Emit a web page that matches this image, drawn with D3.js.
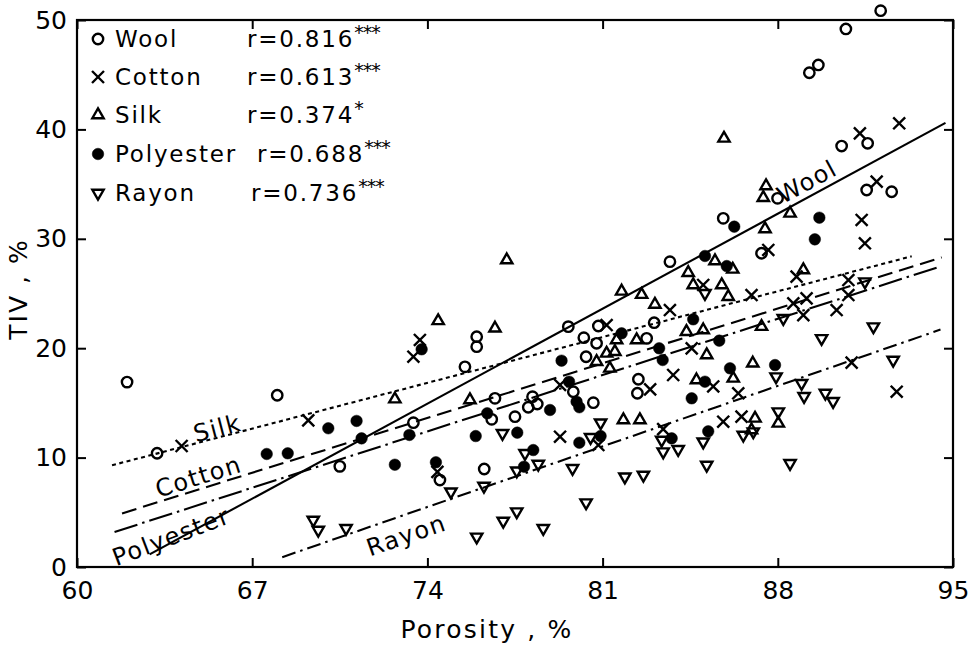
<!DOCTYPE html>
<html>
<head>
<meta charset="utf-8">
<script src="https://cdn.jsdelivr.net/npm/d3@7"></script>
<style>
  html, body { margin: 0; padding: 0; background: #fff; }
  svg { display: block; font-family: "DejaVu Sans", sans-serif; }
</style>
</head>
<body>
<svg id="chart" width="974" height="650"></svg>
<script>
// Porosity (%) vs TIV (%) for five fibre types, with least-squares lines.
const xTicks = [60, 67, 74, 81, 88, 95];
const yTicks = [0, 10, 20, 30, 40, 50];

const seriesNames = ["Wool", "Cotton", "Silk", "Polyester", "Rayon"];
const rValues = ["0.816", "0.613", "0.374", "0.688", "0.736"];
const significance = ["***", "***", "*", "***", "***"];

// [porosity, TIV]
const woolPoints = [
  [62.0, 16.9], [68.0, 15.7], [63.2, 10.4], [70.5, 9.2], [75.97, 21.05], [75.97, 20.14],
  [75.5, 18.3], [79.63, 21.97], [80.25, 20.96], [80.83, 22.03], [80.76, 20.45], [80.34, 19.22],
  [82.76, 20.9], [83.06, 22.33], [79.83, 16.02], [80.63, 15.02], [82.43, 17.16], [82.39, 15.88],
  [78.2, 15.57], [78.03, 14.6], [78.39, 14.9], [76.7, 15.42], [76.57, 13.5], [77.5, 13.74],
  [73.44, 13.19], [74.5, 7.95], [76.27, 8.96], [87.99, 33.7], [85.82, 31.87], [87.35, 28.68],
  [91.55, 34.46], [92.55, 34.3], [83.69, 27.91], [92.11, 50.85], [90.72, 49.18], [89.26, 45.18],
  [89.62, 45.89], [90.55, 38.48], [91.59, 38.73]
];
const cottonPoints = [
  [64.18, 11.06], [69.24, 13.4], [73.7, 20.75], [73.44, 19.22], [81.16, 22.12], [83.69, 23.49],
  [83.82, 17.55], [79.3, 16.64], [82.9, 16.24], [74.4, 8.7], [79.3, 11.91], [80.83, 11.15],
  [83.42, 12.6], [85.42, 16.5], [86.42, 15.88], [92.75, 16.02], [85.82, 13.28], [86.55, 13.74],
  [91.35, 31.72], [91.48, 29.59], [87.62, 28.98], [91.95, 35.22], [85.02, 25.78], [86.95, 24.86],
  [88.75, 26.54], [90.82, 26.23], [90.82, 24.86], [88.62, 24.1], [89.15, 24.56], [89.02, 23.03],
  [90.35, 23.49], [90.95, 18.68], [84.56, 19.99], [91.28, 39.64], [92.85, 40.56]
];
const silkPoints = [
  [72.7, 15.35], [74.43, 22.5], [76.7, 21.82], [75.7, 15.27], [77.17, 28.06], [81.56, 20.75],
  [82.36, 20.75], [83.09, 24.0], [80.76, 18.77], [81.16, 19.53], [81.49, 19.68], [81.29, 18.16],
  [81.83, 13.44], [82.49, 13.44], [85.85, 39.18], [87.53, 34.83], [87.42, 33.76], [88.49, 32.33],
  [87.49, 30.9], [85.49, 27.97], [86.2, 27.21], [84.42, 26.9], [81.76, 25.2], [82.56, 24.9],
  [84.62, 25.78], [85.76, 25.78], [86.02, 24.71], [89.02, 27.15], [87.35, 21.97], [84.35, 21.51],
  [85.02, 21.66], [85.16, 19.38], [84.75, 17.09], [86.22, 17.24], [87.0, 18.62], [87.09, 13.59],
  [86.95, 12.52], [88.02, 13.13]
];
const polyesterPoints = [
  [70.04, 12.68], [71.17, 13.35], [71.37, 11.76], [67.58, 10.33], [68.42, 10.39], [72.7, 9.35],
  [73.77, 19.9], [81.76, 21.36], [83.26, 19.99], [83.4, 18.92], [79.36, 18.86], [79.66, 16.94],
  [79.96, 15.11], [80.07, 14.6], [78.9, 14.35], [76.39, 14.05], [77.59, 12.28], [75.93, 11.97],
  [73.28, 12.07], [74.34, 9.57], [80.07, 11.36], [80.92, 11.97], [78.23, 10.69], [77.86, 9.17],
  [83.76, 11.76], [85.22, 12.4], [86.26, 31.11], [89.66, 31.93], [89.48, 29.95], [85.09, 28.43],
  [85.96, 27.51], [84.62, 22.64], [85.66, 20.69], [85.09, 16.94], [84.56, 15.42], [86.09, 18.16],
  [87.89, 18.46]
];
const rayonPoints = [
  [69.44, 4.3], [69.64, 3.38], [70.75, 3.54], [75.97, 2.75], [77.0, 12.22], [74.94, 6.88],
  [76.26, 7.4], [77.03, 4.2], [77.57, 5.06], [78.63, 3.54], [80.34, 5.88], [79.8, 9.02],
  [80.52, 11.86], [80.92, 13.19], [81.89, 8.25], [82.63, 8.41], [77.9, 10.39], [77.57, 8.8],
  [78.43, 9.41], [83.36, 11.61], [83.42, 10.54], [84.02, 10.76], [85.16, 9.32], [88.49, 9.48],
  [85.02, 11.45], [86.62, 12.07], [87.02, 12.37], [88.95, 16.8], [89.05, 15.6], [89.9, 15.9],
  [90.21, 15.15], [88.02, 14.2], [85.09, 25.02], [91.48, 26.08], [88.22, 22.73], [89.75, 20.9],
  [91.82, 21.97], [92.61, 18.92], [87.93, 17.4]
];

// Regression lines: [[porosity start, TIV], [porosity end, TIV]]
const woolFit = [[62.9, 1.16], [94.7, 40.6]];
const cottonFit = [[61.8, 4.9], [94.55, 28.3]];
const silkFit = [[61.4, 9.3], [93.35, 28.4]];
const polyesterFit = [[61.5, 3.2], [94.4, 27.4]];
const rayonFit = [[68.2, 0.9], [94.5, 21.7]];

const svg = d3.select("#chart");
const x = d3.scaleLinear().domain([60, 95]).range([77, 953]);
const y = d3.scaleLinear().domain([0, 50]).range([567, 20]);

const FONT = "'DejaVu Sans', sans-serif";

// Symbol generators
const sym = {
  Wool: d3.symbol().type(d3.symbolCircle).size(85),
  Cotton: d3.symbol().type(d3.symbolTimes).size(95),
  Silk: d3.symbol().type(d3.symbolTriangle2).size(92),
  Polyester: d3.symbol().type(d3.symbolCircle).size(105),
  Rayon: d3.symbol().type(d3.symbolTriangle2).size(92)
};
function drawMarker(g, name, px, py) {
  const p = g.append("path")
    .attr("d", sym[name]())
    .attr("transform", `translate(${px},${py})` + (name === "Rayon" ? " rotate(180)" : ""))
    .attr("stroke", "#000")
    .attr("stroke-width", 2.4);
  if (name === "Polyester") p.attr("fill", "#000").attr("stroke-width", 0.5);
  else p.attr("fill", "none");
  return p;
}

// Axes (inward ticks)
const gx = svg.append("g").attr("transform", `translate(0,${y(0)})`)
  .call(d3.axisBottom(x).tickValues(xTicks).tickSizeInner(-9).tickSizeOuter(0).tickPadding(14));
const gy = svg.append("g").attr("transform", `translate(${x(60)},0)`)
  .call(d3.axisLeft(y).tickValues(yTicks).tickSizeInner(-9).tickSizeOuter(0).tickPadding(10));
const gt = svg.append("g").attr("transform", `translate(0,${y(50)})`)
  .call(d3.axisTop(x).tickValues(xTicks).tickSizeInner(-9).tickSizeOuter(0).tickFormat(""));
const gr = svg.append("g").attr("transform", `translate(${x(95)},0)`)
  .call(d3.axisRight(y).tickValues(yTicks).tickSizeInner(-9).tickSizeOuter(0).tickFormat(""));
[gx, gy, gt, gr].forEach(g => {
  g.select(".domain").remove();
  g.selectAll(".tick line").attr("stroke", "#000").attr("stroke-width", 2);
  g.selectAll(".tick text").attr("fill", "#000").style("font-family", FONT).style("font-size", "25px");
});

// Frame
svg.append("rect")
  .attr("x", x(60)).attr("y", y(50))
  .attr("width", x(95) - x(60)).attr("height", y(0) - y(50))
  .attr("fill", "none").attr("stroke", "#000").attr("stroke-width", 2.2);

// Axis titles
svg.append("text")
  .attr("x", (x(60) + x(95)) / 2 - 28).attr("y", 638)
  .attr("text-anchor", "middle")
  .style("font-family", FONT).style("font-size", "25px").style("letter-spacing", "2.2px")
  .text("Porosity , %");
svg.append("text")
  .attr("transform", "translate(27,289) rotate(-90)")
  .attr("text-anchor", "middle")
  .style("font-family", FONT).style("font-size", "25px").style("letter-spacing", "2px")
  .text("TIV , %");

// Regression lines
const fits = [
  { name: "Wool", pts: woolFit, dash: null, lx: 89.44, off: 14, extra: 0 },
  { name: "Cotton", pts: cottonFit, dash: "15,7", lx: 65.0, off: 12, extra: 0 },
  { name: "Silk", pts: silkFit, dash: "4,3.5", lx: 65.7, off: 9, extra: 0 },
  { name: "Polyester", pts: polyesterFit, dash: "24,5,2.5,5", lx: 63.5, off: -22, extra: -3 },
  { name: "Rayon", pts: rayonFit, dash: "14,5,2.5,5", lx: 72.9, off: -20, extra: 0 }
];
const line = d3.line().x(d => x(d[0])).y(d => y(d[1]));
fits.forEach(f => {
  svg.append("path")
    .datum(f.pts)
    .attr("d", line)
    .attr("fill", "none")
    .attr("stroke", "#000")
    .attr("stroke-width", 2.1)
    .attr("stroke-dasharray", f.dash);
  const [[x0, y0], [x1, y1]] = f.pts;
  const ty = y0 + (y1 - y0) * (f.lx - x0) / (x1 - x0);
  const px = x(f.lx), py = y(ty);
  const theta = Math.atan2(y(y1) - y(y0), x(x1) - x(x0));
  const cx = px + f.off * Math.sin(theta);
  const cy = py - f.off * Math.cos(theta);
  svg.append("text")
    .attr("transform", `translate(${cx},${cy}) rotate(${theta * 180 / Math.PI + f.extra})`)
    .attr("text-anchor", "middle")
    .attr("dominant-baseline", "central")
    .style("font-family", FONT).style("font-size", "24px").style("letter-spacing", "1.5px")
    .text(f.name);
});

// Data points
const pointSets = { Wool: woolPoints, Cotton: cottonPoints, Silk: silkPoints, Polyester: polyesterPoints, Rayon: rayonPoints };
const gp = svg.append("g");
seriesNames.forEach(name => {
  pointSets[name].forEach(d => drawMarker(gp, name, x(d[0]), y(d[1])));
});

// Legend
const legendRows = [39, 77, 115, 154, 193];
const rX = [247, 247, 247, 257, 251];
const gl = svg.append("g");
seriesNames.forEach((name, i) => {
  drawMarker(gl, name, 98, legendRows[i]);
  gl.append("text")
    .attr("x", 115).attr("y", legendRows[i])
    .attr("dominant-baseline", "central")
    .style("font-family", FONT).style("font-size", "23px").style("letter-spacing", "1.8px")
    .text(name);
  const t = gl.append("text")
    .attr("x", rX[i]).attr("y", legendRows[i])
    .attr("dominant-baseline", "central")
    .style("font-family", FONT).style("font-size", "23px")
    .style("letter-spacing", "1.8px");
  t.append("tspan").text("r=" + rValues[i]);
  t.append("tspan")
    .attr("dy", -7)
    .style("font-size", "19px")
    .style("letter-spacing", "-1px")
    .text(significance[i]);
});
</script>
</body>
</html>
